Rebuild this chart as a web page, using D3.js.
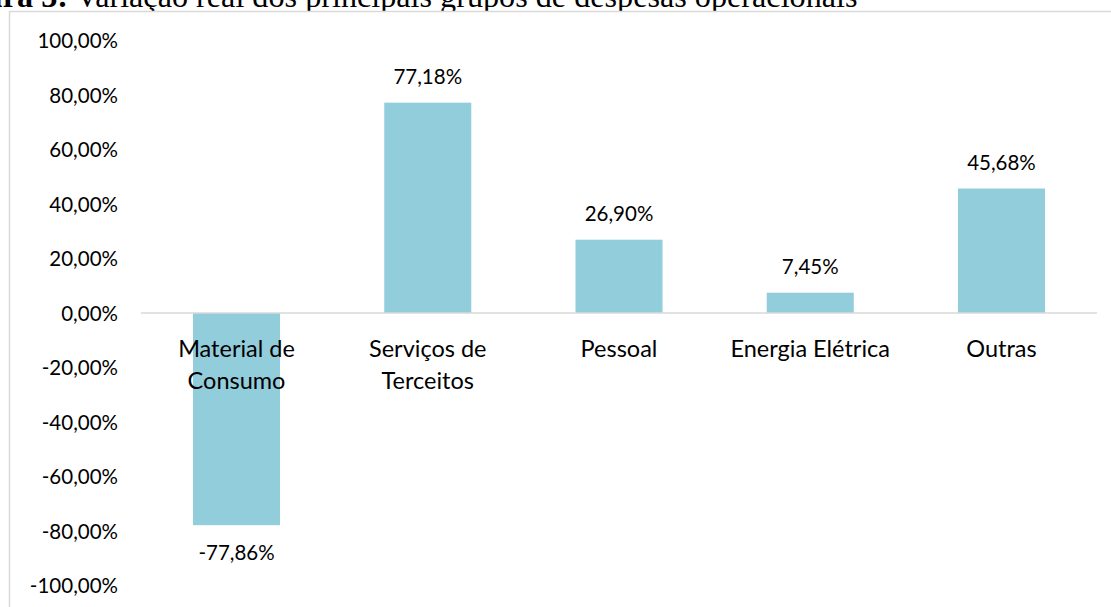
<!DOCTYPE html>
<html><head><meta charset="utf-8">
<script src="https://cdn.jsdelivr.net/npm/d3@7"></script>
<style>html,body{margin:0;padding:0;background:#fff;overflow:hidden}</style>
</head><body>
<svg id="c" width="1111" height="607"></svg>
<script>
const categories = [["Material de","Consumo"],["Serviços de","Terceitos"],["Pessoal"],["Energia Elétrica"],["Outras"]];
const values = [-77.86, 77.18, 26.90, 7.45, 45.68];
const valueLabels = ["-77,86%","77,18%","26,90%","7,45%","45,68%"];
const yTicks = [100,80,60,40,20,0,-20,-40,-60,-80,-100];
const yTickLabels = ["100,00%","80,00%","60,00%","40,00%","20,00%","0,00%","-20,00%","-40,00%","-60,00%","-80,00%","-100,00%"];

const svg = d3.select("#c");
const font = "Lato, 'Open Sans', sans-serif";

// title (clipped at top, partly hidden by chart frame)
const t = svg.append("text").attr("y",7).attr("font-family","'Liberation Serif', 'Times New Roman', serif").attr("font-size",32).attr("fill","#000");
const tb = t.append("tspan").attr("font-weight","bold").text("Figura 3:");
const tn = t.append("tspan").text(" Variação real dos principais grupos de despesas operacionais");
// fit: normal part should span ~x 78..858
const nw = tn.node().getComputedTextLength();
const fs = 32 * 790 / nw;
t.attr("font-size", fs);
const boldW = tb.node().getComputedTextLength();
t.attr("x", 68 - boldW);

// frame
svg.append("rect").attr("x",9.5).attr("y",11.5).attr("width",1200).attr("height",700)
  .attr("fill","#fff").attr("stroke","#d9d9d9").attr("stroke-width",1.5);

const x = d3.scaleBand().domain(d3.range(categories.length)).range([141,1097]).paddingInner(0.545).paddingOuter(0.272);
const y = d3.scaleLinear().domain([-100,100]).range([585.5,40.5]);

// bars
svg.selectAll("rect.bar").data(values).join("rect").attr("class","bar")
  .attr("x",(d,i)=>x(i)).attr("width",x.bandwidth())
  .attr("y",d=>y(Math.max(0,d))).attr("height",d=>Math.abs(y(d)-y(0)))
  .attr("fill","#92cddc");

// zero line
svg.append("line").attr("x1",141).attr("x2",1097).attr("y1",y(0)).attr("y2",y(0))
  .attr("stroke","#d9d9d9").attr("stroke-width",1.5);

// y axis labels
const yAxis = d3.axisLeft(y).tickValues(yTicks).tickFormat((d,i)=>yTickLabels[i]).tickSize(0).tickPadding(0);
const ga = svg.append("g").attr("transform","translate(118,0)").call(yAxis);
ga.select(".domain").remove();
ga.selectAll("text").attr("font-family",font).attr("font-size",20.5).attr("fill","#000").attr("dy","0.35em");

// value labels
svg.selectAll("text.val").data(values).join("text").attr("class","val")
  .attr("x",(d,i)=>x(i)+x.bandwidth()/2)
  .attr("y",d=> d>=0 ? y(d)-19 : y(d)+35)
  .attr("text-anchor","middle").attr("font-family",font).attr("font-size",20.5).attr("fill","#000")
  .text((d,i)=>valueLabels[i]);

// category labels
categories.forEach((lines,i)=>{
  const tx = svg.append("text").attr("text-anchor","middle").attr("font-family",font).attr("font-size",23.5).attr("fill","#000");
  lines.forEach((l,j)=>tx.append("tspan").attr("x",x(i)+x.bandwidth()/2).attr("y",357+j*32).text(l));
});
</script>
</body></html>
